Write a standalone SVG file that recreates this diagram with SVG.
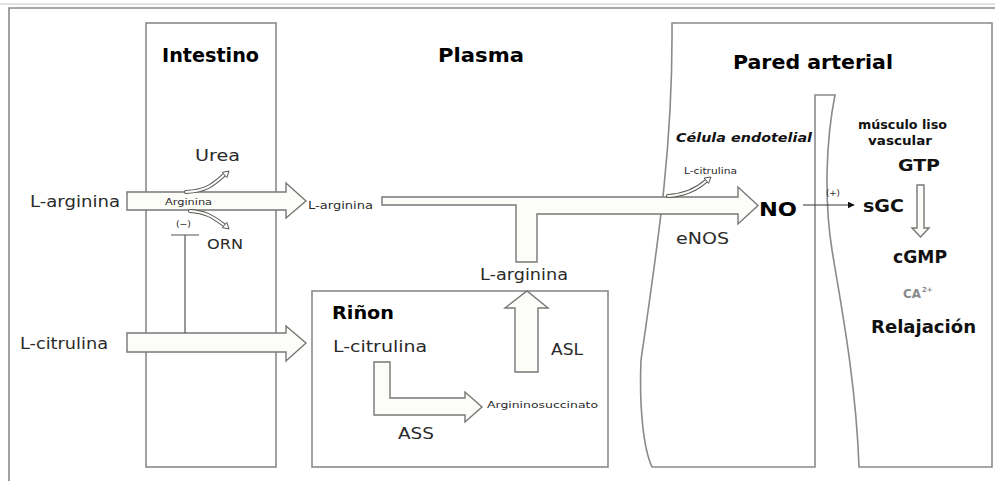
<svg xmlns="http://www.w3.org/2000/svg" width="995" height="481" viewBox="0 0 995 481">
<defs>
<style>
.frame{fill:none;stroke:#8a8a8a;stroke-width:1.6}
.blk{fill:#fcfcf8;stroke:#777;stroke-width:1.4;stroke-linejoin:miter}
.tube1{fill:none;stroke:#555;stroke-width:4;stroke-linecap:round}
.tube2{fill:none;stroke:#fcfcf8;stroke-width:2;stroke-linecap:round}
.hd{fill:#fff;stroke:#555;stroke-width:1}
text{font-family:"DejaVu Sans","Liberation Sans",sans-serif;fill:#2a2a2a}
.t{font-weight:bold;fill:#000}
.b{font-weight:bold;fill:#111}
</style>
<marker id="ah" viewBox="0 0 10 10" refX="9" refY="5" markerWidth="7" markerHeight="7" orient="auto" markerUnits="userSpaceOnUse">
<path d="M0,0 L10,5 L0,10 Z" fill="#111"/>
</marker>
</defs>
<rect width="995" height="481" fill="#fff"/>
<g id="outer-frame">
<line x1="0" y1="4" x2="995" y2="4" stroke="#e2e2e2" stroke-width="2"/>
<path class="frame" d="M9,481 L9,8 L995,8"/>
</g>
<g id="intestino">
<rect class="frame" x="146" y="23" width="130" height="444"/>
<text class="t" x="162" y="62" font-size="19" textLength="97" lengthAdjust="spacingAndGlyphs">Intestino</text>
</g>
<g id="plasma">
<text class="t" x="438" y="62" font-size="19" textLength="86" lengthAdjust="spacingAndGlyphs">Plasma</text>
</g>
<g id="rinon">
<rect class="frame" x="312" y="291" width="296" height="176"/>
<text class="t" x="332" y="319" font-size="17" textLength="62" lengthAdjust="spacingAndGlyphs">Riñon</text>
</g>
<g id="pared-arterial">
<path class="frame" d="M652,467 C644,450 639,410 641,360 C660,230 673,140 672,23 L992,23 L992,467 L859,467 C856,380 840,300 832,250 C824,200 826,140 835,95 L815,95 L815,467 Z"/>
<text class="t" x="733" y="69" font-size="19" textLength="160" lengthAdjust="spacingAndGlyphs">Pared arterial</text>
</g>
<g id="connectors">
<path class="blk" d="M127,192 L286,192 L286,183 L306,201 L286,218 L286,210 L127,210 Z"/>
<path class="blk" d="M127,333 L286,333 L286,326 L306,343 L286,361 L286,352 L127,352 Z"/>
<path class="blk" d="M382,197 L738,197 L738,187 L758,205.5 L738,224 L738,214 L537,214 L537,262 L516,262 L516,205 L382,205 Z"/>
<path class="blk" d="M515,372 L515,308 L505,308 L527,291 L548,308 L538,308 L538,372 Z"/>
<path class="blk" d="M374,362 L390,362 L390,398 L465,398 L465,392 L482,407 L465,422 L465,415 L374,415 Z"/>
<path class="blk" d="M917,185 L924,185 L924,228 L929,228 L920.5,237 L912,228 L917,228 Z"/>
<path class="tube1" d="M186,192 C205,191 212,186 224,175"/>
<path class="tube2" d="M186,192 C205,191 212,186 224,175"/>
<polygon class="hd" points="229,171 226.9,177.6 222.3,172.4"/>
<path class="tube1" d="M190,211 C205,212 212,216 224,225"/>
<path class="tube2" d="M190,211 C205,212 212,216 224,225"/>
<polygon class="hd" points="229,229 222.3,227.6 226.9,222.4"/>
<path class="tube1" d="M668,196 C685,195 696,190 706,181"/>
<path class="tube2" d="M668,196 C685,195 696,190 706,181"/>
<polygon class="hd" points="711,177 708.5,183.4 704.1,178"/>
<path fill="none" stroke="#555" stroke-width="1.2" d="M171,235 L199,235 M185,235 L185,333"/>
<line x1="803" y1="205" x2="854" y2="205" stroke="#333" stroke-width="1" marker-end="url(#ah)"/>
</g>
<g id="labels">
<text x="195" y="161" font-size="15" textLength="45" lengthAdjust="spacingAndGlyphs">Urea</text>
<text x="30" y="207" font-size="15" textLength="90" lengthAdjust="spacingAndGlyphs">L-arginina</text>
<text x="165" y="205" font-size="8" textLength="47" lengthAdjust="spacingAndGlyphs">Arginina</text>
<text x="176" y="227" font-size="9" textLength="15" lengthAdjust="spacingAndGlyphs">(−)</text>
<text x="207" y="249" font-size="14" textLength="36" lengthAdjust="spacingAndGlyphs">ORN</text>
<text x="308" y="209" font-size="10" textLength="65" lengthAdjust="spacingAndGlyphs">L-arginina</text>
<text x="20" y="349" font-size="15" textLength="88" lengthAdjust="spacingAndGlyphs">L-citrulina</text>
<text x="480" y="280" font-size="15" textLength="88" lengthAdjust="spacingAndGlyphs">L-arginina</text>
<text x="333" y="352" font-size="16" textLength="94" lengthAdjust="spacingAndGlyphs">L-citrulina</text>
<text x="551" y="355" font-size="15" textLength="32" lengthAdjust="spacingAndGlyphs">ASL</text>
<text x="487" y="408" font-size="9" textLength="111" lengthAdjust="spacingAndGlyphs">Argininosuccinato</text>
<text x="398" y="439" font-size="15" textLength="36" lengthAdjust="spacingAndGlyphs">ASS</text>
<text class="b" x="676" y="142" font-size="12" font-style="italic" textLength="136" lengthAdjust="spacingAndGlyphs">Célula endotelial</text>
<text x="684" y="174" font-size="8" textLength="53" lengthAdjust="spacingAndGlyphs">L-citrulina</text>
<text class="t" x="759" y="216" font-size="20" textLength="38" lengthAdjust="spacingAndGlyphs">NO</text>
<text x="676" y="244" font-size="15" textLength="53" lengthAdjust="spacingAndGlyphs">eNOS</text>
<text x="826" y="196" font-size="8" textLength="14" lengthAdjust="spacingAndGlyphs">(+)</text>
<text class="b" x="863" y="212" font-size="17" textLength="41" lengthAdjust="spacingAndGlyphs">sGC</text>
<text class="b" x="858" y="129" font-size="12" textLength="89" lengthAdjust="spacingAndGlyphs">músculo liso</text>
<text class="b" x="868" y="145" font-size="12" textLength="64" lengthAdjust="spacingAndGlyphs">vascular</text>
<text class="b" x="898" y="171" font-size="15" textLength="42" lengthAdjust="spacingAndGlyphs">GTP</text>
<text class="b" x="893" y="263" font-size="17" textLength="54" lengthAdjust="spacingAndGlyphs">cGMP</text>
<text class="b" x="903" y="298" font-size="12" style="fill:#8a8a8a" textLength="18" lengthAdjust="spacingAndGlyphs">CA</text>
<text class="b" x="922" y="292" font-size="7" style="fill:#8a8a8a">2+</text>
<text class="b" x="871" y="333" font-size="18" textLength="105" lengthAdjust="spacingAndGlyphs">Relajación</text>
</g>
</svg>
